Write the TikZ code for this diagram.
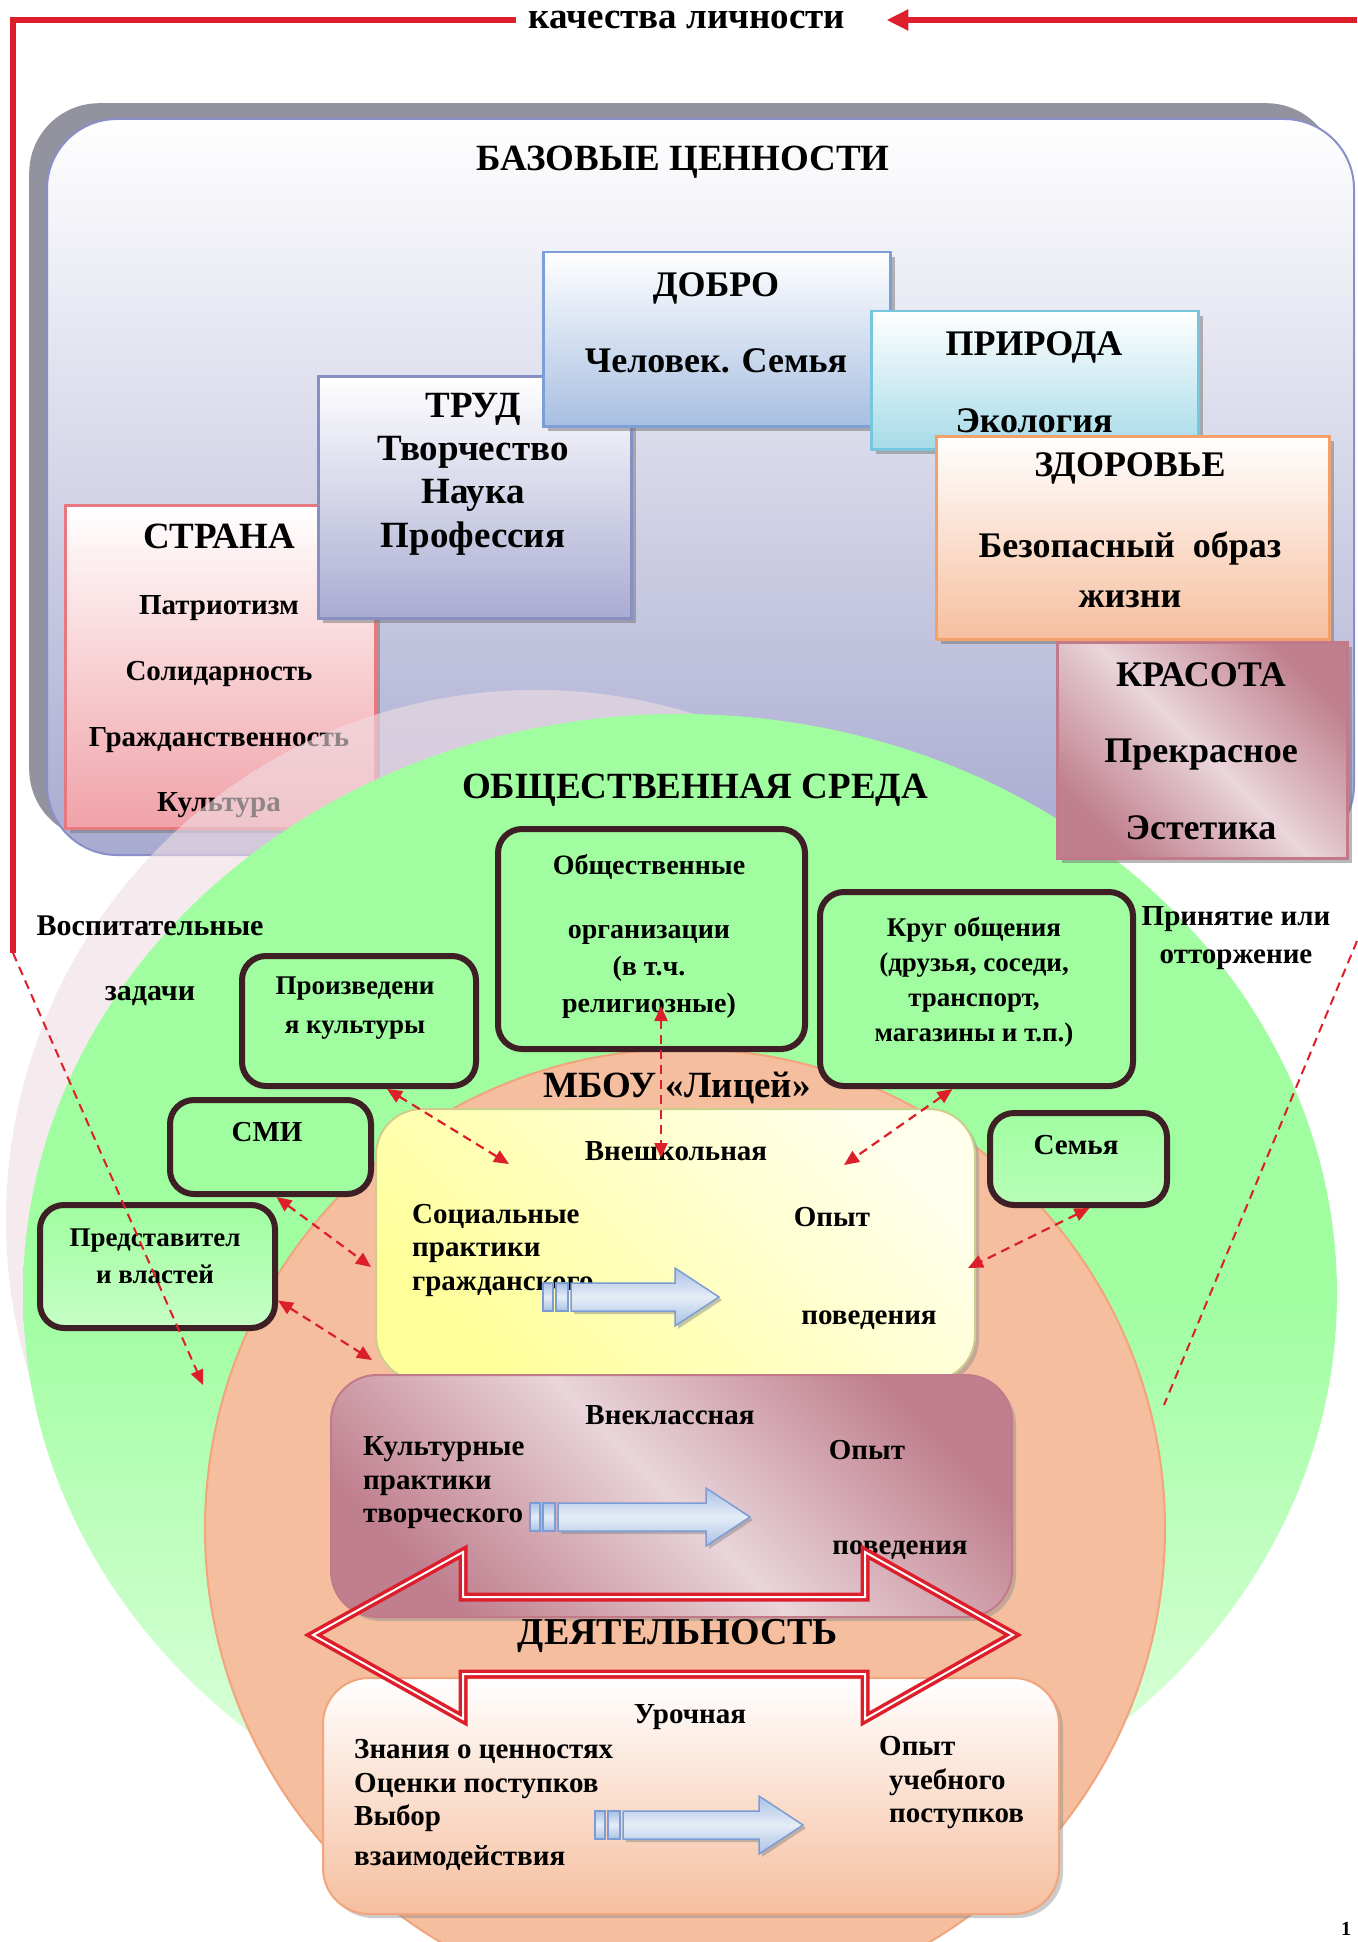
\documentclass[tikz,border=0pt]{standalone}
\usepackage{fontspec}
\setmainfont{Liberation Serif}
\usepackage{tikz}
\usetikzlibrary{arrows.meta,positioning,shadows}

\definecolor{cred}{HTML}{DC1F2B}
\definecolor{frameshade}{HTML}{9393A0}
\definecolor{framebot}{HTML}{A8AAD0}
\definecolor{framedraw}{HTML}{8B8FC9}
\definecolor{stranafill}{HTML}{F0A2A8}
\definecolor{stranadraw}{HTML}{E8787F}
\definecolor{trudfill}{HTML}{A9ACD2}
\definecolor{truddraw}{HTML}{878FC3}
\definecolor{dobrofill}{HTML}{A7BFE1}
\definecolor{dobrodraw}{HTML}{7E9ED6}
\definecolor{prirodafill}{HTML}{A6DBE8}
\definecolor{prirodadraw}{HTML}{78C6DD}
\definecolor{zdorfill}{HTML}{F6BF9F}
\definecolor{zdordraw}{HTML}{F2A06C}
\definecolor{krasdark}{HTML}{C07F8E}
\definecolor{kraslight}{HTML}{E9D5DA}
\definecolor{krasdraw}{HTML}{C27A8A}
\definecolor{sgreen}{HTML}{A0FEA0}
\definecolor{sgreenpale}{HTML}{E8FFE8}
\definecolor{spink}{HTML}{EFDDE3}
\definecolor{lorange}{HTML}{F5BE9F}
\definecolor{lorangedraw}{HTML}{F2A47C}
\definecolor{boxline}{HTML}{3F1F26}
\definecolor{vyellow}{HTML}{FFFF9A}
\definecolor{vyellowpale}{HTML}{FFFFEC}
\definecolor{vyellowdraw}{HTML}{CDCD8E}
\definecolor{ablue}{HTML}{A9C1E4}
\definecolor{abluedraw}{HTML}{7C9CD4}

\newcommand{\txtsize}[2]{\bfseries\fontsize{#1}{#2}\selectfont}

\tikzset{
  lbl/.style={inner sep=0pt, align=center, font=\txtsize{29}{34}},
  valbox/.style={rectangle, anchor=north west, line width=2.5pt,
    drop shadow={shadow xshift=5pt, shadow yshift=-5pt, fill=black!55, opacity=.5}},
  envbox/.style={rectangle, anchor=north west, rounded corners=24pt, draw=boxline, line width=6pt, fill=sgreen},
  actbox/.style={rectangle, anchor=north west, rounded corners=46pt, line width=2pt,
    drop shadow={shadow xshift=4pt, shadow yshift=-4pt, fill=black!45, opacity=.45}},
  link/.style={cred, line width=2.2pt, dash pattern=on 9pt off 6pt, <->},
  longdash/.style={cred, line width=2pt, dash pattern=on 9pt off 6pt},
  redline/.style={cred, line width=5.5pt, line join=miter},
  arrowbody/.style={draw=abluedraw, line width=1.5pt, top color=ablue, bottom color=ablue, middle color=ablue!30!white},
  pics/flowarrow/.style={code={
    \draw[arrowbody] (0,-14) rectangle (10,14);
    \draw[arrowbody] (13,-14) rectangle (25,14);
    \draw[arrowbody, drop shadow={shadow xshift=3pt, shadow yshift=-3pt, fill=black!50, opacity=.45}]
      (28,-14) -- (#1-44,-14) -- (#1-44,-29) -- (#1,0) -- (#1-44,29) -- (#1-44,14) -- (28,14) -- cycle;
  }},
}

\begin{document}
\begin{tikzpicture}[x=1pt,y=-1pt,>={Triangle[length=15pt,width=13pt]}]
  \useasboundingbox[fill=white] (0,0) rectangle (1357,1942);

  % base values
  \node[rectangle, anchor=north west, rounded corners=70pt, fill=frameshade, minimum width=1307pt, minimum height=736pt] (frameshadow) at (29,103) {};
  \node[rectangle, anchor=north west, rounded corners=70pt, draw=framedraw, line width=2pt, top color=white, bottom color=framebot,
    minimum width=1307pt, minimum height=736pt] (frame) at (46,118) {};
  \node[lbl, font=\txtsize{37}{42}] (frame-t) at (683,162) {БАЗОВЫЕ ЦЕННОСТИ};

  \node[valbox, minimum width=310pt, minimum height=323pt, draw=stranadraw, top color=white, bottom color=stranafill] (strana) at (64,504) {};
  \node[lbl, font=\txtsize{37}{42}] (strana-t) at (219,536) {СТРАНА};
  \node[lbl, font=\txtsize{29}{65.7}] (strana-b) at (219,707) {Патриотизм\\Солидарность\\Гражданственность\\Культура};

  \node[valbox, minimum width=313pt, minimum height=242pt, draw=truddraw, top color=white, bottom color=trudfill] (trud) at (317,375) {};
  \node[lbl, font=\txtsize{37}{43.3}] (trud-t) at (473,474) {ТРУД\\Творчество\\Наука\\Профессия};

  \node[valbox, minimum width=347pt, minimum height=174pt, draw=dobrodraw, top color=white, bottom color=dobrofill] (dobro) at (542,251) {};
  \node[lbl, font=\txtsize{36}{76}] (dobro-t) at (716,323) {ДОБРО\\Человек. Семья};

  \node[valbox, minimum width=327pt, minimum height=138pt, draw=prirodadraw, top color=white, bottom color=prirodafill] (priroda) at (870,310) {};
  \node[lbl, font=\txtsize{36}{77}] (priroda-t) at (1034,382) {ПРИРОДА\\Экология};

  \node[valbox, minimum width=393pt, minimum height=203pt, draw=zdordraw, top color=white, bottom color=zdorfill] (zdorove) at (935,435) {};
  \node[lbl, font=\txtsize{36}{42}] (zdorove-t) at (1130,468) {ЗДОРОВЬЕ};
  \node[lbl, font=\txtsize{36}{50}] (zdorove-b) at (1130,570) {Безопасный\ \ образ\\жизни};

  % environment
  \fill[spink, fill opacity=.6] (536,1220) circle[radius=530];
  \path[top color=sgreen, bottom color=sgreenpale, middle color=sgreen] (680,1294) ellipse[x radius=657, y radius=580];

  \node[valbox, minimum width=290pt, minimum height=216pt, draw=krasdraw, top color=krasdark, bottom color=krasdark,
    middle color=kraslight, shading angle=-45] (krasota) at (1056,641) {};
  \node[lbl, font=\txtsize{36}{76.5}] (krasota-t) at (1201,751) {КРАСОТА\\Прекрасное\\Эстетика};

  \draw[lorangedraw, line width=2pt, fill=lorange] (685,1529) circle[radius=480];

  \node[lbl, font=\txtsize{37}{42}] (sreda) at (695,790) {ОБЩЕСТВЕННАЯ СРЕДА};
  \node[lbl, font=\txtsize{30}{65}] (zadachi) at (150,961) {Воспитательные\\задачи};
  \node[lbl, font=\txtsize{29}{38}] (prinyatie) at (1236,938) {Принятие или\\отторжение};

  \node[envbox, minimum width=307pt, minimum height=220pt] (obsh) at (495,826) {};
  \node[lbl, font=\txtsize{28}{37}] (obsh-t) at (649,936) {Общественные\\[27pt]организации\\(в т.ч.\\религиозные)};
  \node[envbox, minimum width=313pt, minimum height=194pt] (krug) at (817,889) {};
  \node[lbl, font=\txtsize{27}{35}] (krug-t) at (974,982) {Круг общения\\(друзья, соседи,\\транспорт,\\магазины и т.п.)};
  \node[envbox, minimum width=234pt, minimum height=130pt] (proizv) at (239,953) {};
  \node[lbl, font=\txtsize{27}{39}] (proizv-t) at (355,1008) {Произведени\\я культуры};
  \node[envbox, minimum width=201pt, minimum height=94pt] (smi) at (167,1097) {};
  \node[lbl] (smi-t) at (267,1132) {СМИ};
  \node[envbox, minimum width=235pt, minimum height=123pt, top color=sgreen, bottom color=sgreen!60!white] (pred) at (37,1202) {};
  \node[lbl, font=\txtsize{27}{37}] (pred-t) at (155,1256) {Представител\\и властей};
  \node[envbox, minimum width=177pt, minimum height=92pt, top color=sgreen, bottom color=sgreen!75!white] (semya) at (987,1110) {};
  \node[lbl] (semya-t) at (1076,1145) {Семья};

  % school
  \node[lbl, font=\txtsize{37}{42}] (licey) at (677,1088) {МБОУ «Лицей»};

  \node[actbox, minimum width=599pt, minimum height=272pt, draw=vyellowdraw, top color=vyellowpale, bottom color=vyellow,
    shading angle=-45] (vnesh) at (375,1108) {};
  \node[lbl] (vnesh-t) at (676,1151) {Внешкольная};
  \node[lbl, align=left, anchor=west, font=\txtsize{29}{33.5}] (vnesh-l) at (412,1250) {Социальные\\практики\\гражданского};
  \node[lbl] (vnesh-r1) at (832,1217) {Опыт};
  \node[lbl] (vnesh-r2) at (869,1320) {поведения};
  \pic (vnesh-a) at (543,1297) {flowarrow=176};

  \node[actbox, minimum width=681pt, minimum height=242pt, draw=krasdraw, top color=krasdark, bottom color=krasdark,
    middle color=kraslight, shading angle=-45] (vnekl) at (330,1374) {};
  \node[lbl] (vnekl-t) at (670,1415) {Внеклассная};
  \node[lbl, align=left, anchor=west, font=\txtsize{29}{33.5}] (vnekl-l) at (363,1483) {Культурные\\практики\\творческого};
  \node[lbl] (vnekl-r1) at (867,1450) {Опыт};
  \node[lbl] (vnekl-r2) at (900,1550) {поведения};
  \pic (vnekl-a) at (530,1517) {flowarrow=220};

  \node[actbox, minimum width=736pt, minimum height=236pt, draw=lorangedraw, top color=white, bottom color=zdorfill] (uroch) at (322,1677) {};
  \node[lbl] (uroch-t) at (690,1717) {Урочная};
  \node[lbl, align=left, anchor=west, font=\txtsize{29}{33.5}] (uroch-l) at (354,1805) {Знания о ценностях\\Оценки поступков\\Выбор\\[6pt]взаимодействия};
  \node[lbl, align=left, anchor=west, font=\txtsize{29}{33.5}] (uroch-r) at (879,1783) {Опыт\\\hspace*{10pt}учебного\\\hspace*{10pt}поступков};
  \pic (uroch-a) at (595,1825) {flowarrow=208};

  % activity
  \draw[cred, line width=3.5pt, double=white, double distance=2pt, line join=miter]
    (313,1635) -- (463,1552) -- (463,1597) -- (865,1597) -- (865,1552) -- (1013,1635)
    -- (865,1719) -- (865,1674) -- (463,1674) -- (463,1719) -- cycle;
  \node[lbl, font=\txtsize{38}{44}] (deyat) at (678,1636) {ДЕЯТЕЛЬНОСТЬ};

  % links
  \coordinate (proizv-in) at (509,1164);
  \coordinate (obsh-up) at (661,1006);
  \coordinate (obsh-in) at (661,1158);
  \coordinate (krug-in) at (844,1165);
  \coordinate (smi-in) at (371,1267);
  \coordinate (pred-in) at (372,1360);
  \coordinate (semya-in) at (968,1268);
  \draw[link] ([xshift=28pt]proizv.south) -- (proizv-in);
  \draw[link] (obsh-up) -- (obsh-in);
  \draw[link] ([xshift=-24pt]krug.south) -- (krug-in);
  \draw[link] ([xshift=6pt]smi.south) -- (smi-in);
  \draw[link] ([yshift=-34pt]pred.east) -- (pred-in);
  \draw[link] ([xshift=11pt]semya.south) -- (semya-in);

  % loop
  \node[lbl, inner xsep=13pt, font=\txtsize{37}{42}] (kach) at (687,20) {качества личности};
  \coordinate (topleft) at (13,20);
  \coordinate (turnleft) at (13,953);
  \coordinate (goalleft) at (203,1385);
  \coordinate (topright) at (1357,20);
  \coordinate (edgeright) at (1357,941);
  \coordinate (goalright) at (1164,1405);
  \draw[redline] (kach.west) -- (topleft) -- (turnleft);
  \draw[redline, -{Triangle[length=22pt,width=20pt]}] (topright) -- ([xshift=28pt]kach.east);
  \draw[longdash, ->] (turnleft) -- (goalleft);
  \draw[longdash] (edgeright) -- (goalright);

  \node[inner sep=0pt, font=\txtsize{20}{24}] (pageno) at (1346,1929) {1};
\end{tikzpicture}
\end{document}
